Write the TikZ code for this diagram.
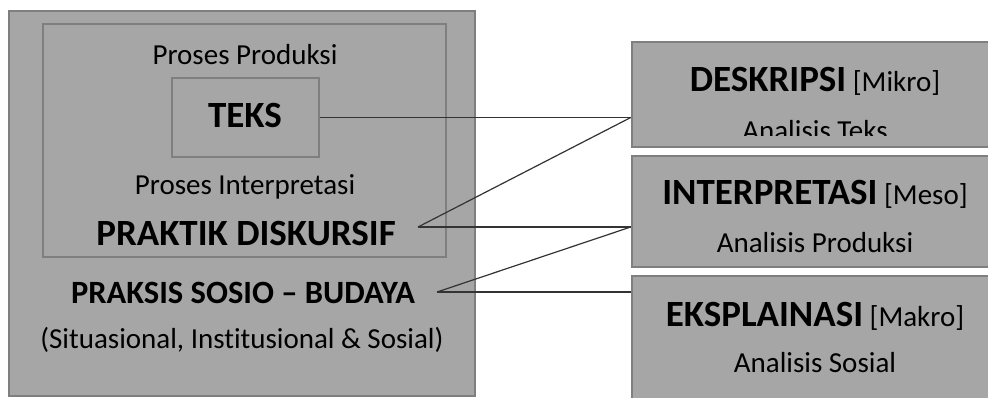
\documentclass[tikz,border=0pt]{standalone}
\usepackage{fontspec}
\setmainfont{Carlito}[Ligatures=NoCommon]
\definecolor{boxfill}{HTML}{A6A6A6}
\definecolor{boxline}{HTML}{7F7F7F}
\tikzset{
  gbox/.style={draw=boxline, line width=2.5pt, fill=boxfill, inner sep=0pt},
  reg/.style={font=\fontsize{29}{34}\selectfont, anchor=base, inner sep=0pt},
  bld/.style={font=\fontsize{37}{42}\selectfont\bfseries, anchor=base, inner sep=0pt},
  link/.style={draw=black!80, line width=1.2pt}
}
\begin{document}
\begin{tikzpicture}[x=1pt,y=-1pt]
\useasboundingbox (0,0) rectangle (988,398);
% left boxes
\node[gbox, minimum width=466pt, minimum height=385pt] (outer) at (242,203.5) {};
\node[gbox, minimum width=403pt, minimum height=233pt] (inner) at (244.5,140.5) {};
\node[gbox, minimum width=147pt, minimum height=79pt] (teks) at (245.5,117.5) {};
\node[bld] (teksT) at (245,128) {TEKS};
\node[reg] (pprod) at (245,65) {Proses Produksi};
\node[reg] (pint) at (245,195) {Proses Interpretasi};
\node[bld] (pdis) at (246,245) {PRAKTIK DISKURSIF};
\node[bld, font=\fontsize{32.5}{37}\selectfont\bfseries] (psos) at (243,303) {PRAKSIS SOSIO -- BUDAYA};
\node[reg] (sit) at (242,348) {(Situasional, Institusional \& Sosial)};
% right boxes
\node[gbox, minimum width=378pt, minimum height=105pt] (desk) at (821,94.5) {};
\node[gbox, minimum width=378pt, minimum height=111pt] (inter) at (821,211.5) {};
\node[gbox, minimum width=378pt, minimum height=144pt] (eksp) at (821,348) {};
\node[reg] (deskT) at (815,92) {{\fontsize{37}{42}\selectfont\bfseries DESKRIPSI} [Mikro]};
\begin{scope}
  \clip (633,42) rectangle (1000,136);
  \node[reg] (deskS) at (815,141) {Analisis Teks};
\end{scope}
\node[reg] (interT) at (815,205) {{\fontsize{37}{42}\selectfont\bfseries INTERPRETASI} [Meso]};
\node[reg] (interS) at (815,252) {Analisis Produksi};
\node[reg] (ekspT) at (815,326) {{\fontsize{37}{42}\selectfont\bfseries EKSPLAINASI} [Makro]};
\node[reg] (ekspS) at (815,372) {Analisis Sosial};
% connectors
\coordinate (pd) at (418,227);
\coordinate (ps) at (437,292);
\draw[link] (teks.east) -- (teks.east -| desk.west);
\draw[link] (pd) -- (desk.west |- teks.east);
\draw[link] (pd) -- (pd -| inter.west);
\draw[link] (ps) -- (pd -| inter.west);
\draw[link] (ps) -- (ps -| eksp.west);
\end{tikzpicture}
\end{document}
